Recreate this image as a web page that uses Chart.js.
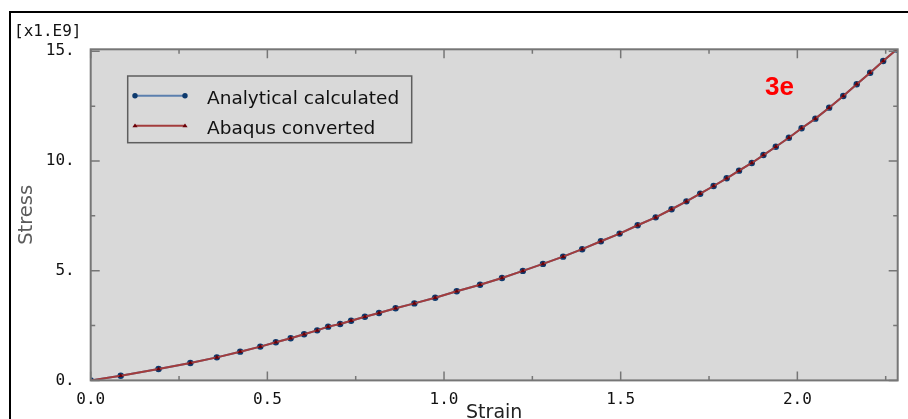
<!DOCTYPE html>
<html>
<head>
<meta charset="utf-8">
<script src="https://cdn.jsdelivr.net/npm/chart.js@4"></script>
<style>
html, body { margin: 0; padding: 0; background: #fff; overflow: hidden; }
#frame { position: absolute; left: 9px; top: 11px; width: 1000px; height: 500px; border: 2px solid #000; }
#wrap { position: absolute; left: 0; top: 0; width: 908px; height: 419px; }
</style>
</head>
<body>
<div id="frame"></div>
<div id="wrap"><canvas id="stressChart" width="908" height="419"></canvas></div>
<script>
// strain / stress [x1.E9]
var strain = [0, 0.085, 0.192, 0.282, 0.357, 0.423, 0.480, 0.524, 0.566, 0.604, 0.641, 0.672,
  0.706, 0.737, 0.776, 0.816, 0.863, 0.916, 0.975, 1.036, 1.102, 1.164, 1.223, 1.280, 1.337,
  1.391, 1.444, 1.497, 1.548, 1.599, 1.644, 1.686, 1.725, 1.763, 1.800, 1.835, 1.871,
  1.904, 1.939, 1.976, 2.012, 2.051, 2.090, 2.130, 2.168, 2.206, 2.243, 2.281];
var analyticalStress = [0, 0.21, 0.52, 0.79, 1.05, 1.31, 1.54, 1.74, 1.92, 2.10, 2.28, 2.45,
  2.57, 2.72, 2.90, 3.07, 3.29, 3.51, 3.77, 4.06, 4.36, 4.67, 4.99, 5.31, 5.64,
  5.98, 6.34, 6.69, 7.07, 7.43, 7.80, 8.16, 8.51, 8.86, 9.21, 9.56, 9.91,
  10.27, 10.65, 11.06, 11.49, 11.93, 12.43, 12.96, 13.50, 14.02, 14.56, 15.08];
var abaqusStress = [0, 0.21, 0.52, 0.79, 1.05, 1.31, 1.54, 1.74, 1.92, 2.10, 2.28, 2.45,
  2.57, 2.72, 2.90, 3.07, 3.29, 3.51, 3.77, 4.06, 4.36, 4.67, 4.99, 5.31, 5.64,
  5.98, 6.34, 6.69, 7.07, 7.43, 7.80, 8.16, 8.51, 8.86, 9.21, 9.56, 9.91,
  10.27, 10.65, 11.06, 11.49, 11.93, 12.43, 12.96, 13.50, 14.02, 14.56, 15.08];
var xTicks = [0, 0.5, 1.0, 1.5, 2.0];
var yTicks = [0, 5, 10, 15];
var xMinor = [0.25, 0.75, 1.25, 1.75, 2.25];
var yMinor = [2.5, 7.5, 12.5];

function pts(xs, ys) {
  return xs.map(function (x, i) { return { x: x, y: ys[i] }; });
}

// plot frame, inward ticks, legend box, notes
var abaqusLook = {
  id: 'abaqusLook',
  beforeDraw: function (chart) {
    var c = chart.ctx, a = chart.chartArea;
    c.save();
    c.fillStyle = '#d9d9d9';
    c.fillRect(a.left, a.top, a.right - a.left, a.bottom - a.top);
    c.restore();
  },
  afterDraw: function (chart) {
    var c = chart.ctx, a = chart.chartArea;
    var xs = chart.scales.x, ys = chart.scales.y;
    c.save();
    c.strokeStyle = '#767676';
    c.lineWidth = 2;
    c.strokeRect(a.left, a.top, a.right - a.left, a.bottom - a.top);
    c.lineWidth = 1.5;
    c.beginPath();
    xTicks.concat(xMinor).forEach(function (v) {
      var len = xTicks.indexOf(v) >= 0 ? 9 : 4.5;
      var px = xs.getPixelForValue(v);
      c.moveTo(px, a.bottom); c.lineTo(px, a.bottom - len);
      c.moveTo(px, a.top); c.lineTo(px, a.top + len);
    });
    yTicks.concat(yMinor).forEach(function (v) {
      var len = yTicks.indexOf(v) >= 0 ? 9 : 4.5;
      var py = ys.getPixelForValue(v);
      c.moveTo(a.left, py); c.lineTo(a.left + len, py);
      c.moveTo(a.right, py); c.lineTo(a.right - len, py);
    });
    c.stroke();

    // legend
    c.strokeStyle = '#5e5e5e';
    c.lineWidth = 1.5;
    c.strokeRect(127.7, 76, 284, 66.7);
    var ds = chart.data.datasets;
    var rows = [95.7, 125.7];
    c.font = '18.5px "DejaVu Sans"';
    c.textBaseline = 'alphabetic';
    c.textAlign = 'left';
    ds.forEach(function (d, i) {
      var y = rows[i];
      c.strokeStyle = d.borderColor;
      c.lineWidth = 2;
      c.beginPath(); c.moveTo(135, y); c.lineTo(185, y); c.stroke();
      c.fillStyle = d.pointBackgroundColor;
      [135, 185].forEach(function (x) {
        c.beginPath();
        if (i === 0) {
          c.arc(x, y, 2.7, 0, Math.PI * 2);
        } else {
          c.moveTo(x, y - 2.2); c.lineTo(x + 2.6, y + 1.6); c.lineTo(x - 2.6, y + 1.6); c.closePath();
        }
        c.fill();
      });
      c.fillStyle = '#111';
      c.fillText(d.label, 207, y + 8.6);
    });

    c.fillStyle = '#111';
    c.font = '16px "DejaVu Sans Mono"';
    c.textBaseline = 'middle';
    c.fillText('[x1.E9]', 14, 32);

    c.fillStyle = '#ff0000';
    c.font = 'bold 26px "Liberation Sans"';
    c.textBaseline = 'alphabetic';
    c.fillText('3e', 765, 94.5);
    c.restore();
  }
};

var ctx = document.getElementById('stressChart').getContext('2d');
var stressChart = new Chart(ctx, {
  type: 'line',
  data: {
    datasets: [{
      label: 'Analytical calculated',
      data: pts(strain, analyticalStress),
      order: 2,
      borderColor: '#5b7fae',
      backgroundColor: '#5b7fae',
      pointBackgroundColor: '#0d3a6e',
      pointBorderColor: '#0d3a6e',
      pointRadius: 3.2,
      pointBorderWidth: 0,
      borderWidth: 2,
      tension: 0
    }, {
      label: 'Abaqus converted',
      data: pts(strain, abaqusStress),
      order: 1,
      borderColor: '#a33c3c',
      backgroundColor: '#a33c3c',
      pointBackgroundColor: '#6a0008',
      pointBorderColor: '#6a0008',
      pointStyle: 'triangle',
      pointRadius: 2.6,
      pointBorderWidth: 0,
      borderWidth: 2,
      tension: 0
    }]
  },
  options: {
    responsive: false,
    animation: false,
    events: [],
    layout: { padding: { left: 0, top: 49.3, right: 10.3, bottom: 0 } },
    plugins: { legend: { display: false }, tooltip: { enabled: false } },
    scales: {
      x: {
        type: 'linear',
        min: 0,
        max: 2.284,
        grid: { display: false },
        border: { display: false },
        afterFit: function (s) { s.height = 38.6; },
        ticks: {
          stepSize: 0.5,
          includeBounds: false,
          maxRotation: 0,
          autoSkip: false,
          padding: 2,
          color: '#111',
          font: { family: 'DejaVu Sans Mono', size: 16, lineHeight: 1.2 },
          callback: function (v) { return Number(v).toFixed(1); }
        },
        title: {
          display: true,
          text: 'Strain',
          color: '#222',
          font: { family: 'DejaVu Sans', size: 19, lineHeight: 1.2 },
          padding: { top: 0, bottom: -5.4 }
        }
      },
      y: {
        type: 'linear',
        min: 0,
        max: 15.09,
        grid: { display: false },
        border: { display: false },
        afterFit: function (s) { s.width = 90.7; },
        ticks: {
          stepSize: 5,
          includeBounds: false,
          padding: 8,
          color: '#111',
          font: { family: 'DejaVu Sans Mono', size: 16, lineHeight: 1.2 },
          callback: function (v) { return v + '.'; }
        },
        title: {
          display: true,
          text: 'Stress',
          color: '#5a5a5a',
          font: { family: 'DejaVu Sans', size: 19.5, lineHeight: 1.2 },
          padding: { top: 15.6, bottom: 0 }
        }
      }
    }
  },
  plugins: [abaqusLook]
});
</script>
</body>
</html>
